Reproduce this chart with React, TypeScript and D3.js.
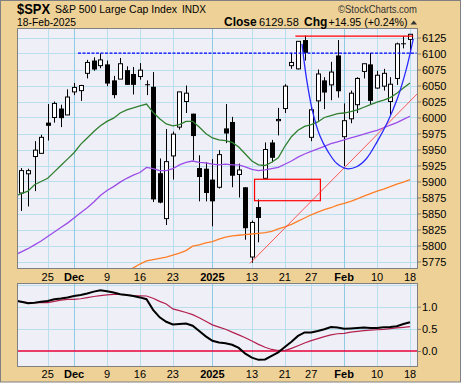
import React from "react";
import * as d3 from "d3";

// trading days on the chart (the first one sits just left of the plot edge)
const dates = [
  "2024-11-18", "2024-11-19", "2024-11-20", "2024-11-21", "2024-11-22", "2024-11-25", "2024-11-26", "2024-11-27", "2024-11-29",
  "2024-12-02", "2024-12-03", "2024-12-04", "2024-12-05", "2024-12-06", "2024-12-09", "2024-12-10", "2024-12-11", "2024-12-12",
  "2024-12-13", "2024-12-16", "2024-12-17", "2024-12-18", "2024-12-19", "2024-12-20", "2024-12-23", "2024-12-24", "2024-12-26",
  "2024-12-27", "2024-12-30", "2024-12-31",
  "2025-01-02", "2025-01-03", "2025-01-06", "2025-01-07", "2025-01-08", "2025-01-10", "2025-01-13", "2025-01-14", "2025-01-15",
  "2025-01-16", "2025-01-17", "2025-01-21", "2025-01-22", "2025-01-23", "2025-01-24", "2025-01-27", "2025-01-28", "2025-01-29",
  "2025-01-30", "2025-01-31",
  "2025-02-03", "2025-02-04", "2025-02-05", "2025-02-06", "2025-02-07", "2025-02-10", "2025-02-11", "2025-02-12", "2025-02-13",
  "2025-02-14", "2025-02-18",
];

const opens = [
  5900, 5882, 5912, 5939, 5944, 5992, 6000, 6014, 6004,
  6040, 6042, 6069, 6089, 6081, 6083, 6058, 6060, 6074, 6068, 6064, 6052, 6048, 5913, 5842, 5940, 5985, 6025, 6006, 5921, 5920,
  5903, 5891, 5983, 5993, 5911, 5891, 5782, 5860, 5905, 5961, 5995, 6014, 6081, 6076, 6121, 5969, 6026, 6058, 6051, 6097,
  5970, 5998, 6020, 6072, 6083, 6046, 6049, 6025, 6061, 6116, 6122,
];
const highs = [
  5908, 5921, 5920, 5963, 5973, 6021, 6025, 6020, 6044,
  6054, 6051, 6090, 6094, 6100, 6089, 6065, 6093, 6080, 6079, 6085, 6058, 6071, 5936, 5982, 5978, 6040, 6050, 6006, 5941, 5930,
  5935, 5949, 6021, 6001, 5928, 5891, 5839, 5872, 5961, 5965, 6015, 6052, 6101, 6119, 6128, 6017, 6075, 6063, 6087, 6121,
  6022, 6042, 6063, 6084, 6101, 6073, 6076, 6063, 6117, 6127, 6130,
];
const lows = [
  5866, 5854, 5861, 5885, 5944, 5964, 5992, 5985, 6004,
  6035, 6026, 6061, 6073, 6077, 6049, 6030, 6060, 6051, 6036, 6059, 6035, 5868, 5866, 5832, 5903, 5981, 6007, 5933, 5869, 5869,
  5830, 5889, 5960, 5891, 5875, 5809, 5773, 5805, 5905, 5930, 5972, 6007, 6076, 6075, 6089, 5963, 5995, 6013, 6027, 6031,
  5924, 5991, 6007, 6061, 6020, 6045, 6042, 6003, 6051, 6108, 6100,
];
const closes = [
  5894, 5917, 5917, 5949, 5969, 5987, 6022, 5999, 6032,
  6047, 6050, 6086, 6075, 6090, 6053, 6035, 6084, 6051, 6051, 6074, 6051, 5872, 5867, 5931, 5974, 6040, 6038, 5971, 5907, 5882,
  5869, 5942, 5975, 5909, 5918, 5827, 5836, 5843, 5950, 5937, 5997, 6049, 6086, 6119, 6101, 6012, 6068, 6039, 6071, 6041,
  5995, 6038, 6061, 6084, 6026, 6066, 6069, 6052, 6115, 6115, 6130,
];

// moving averages
const sma20 = [
  5877, 5881, 5885, 5895, 5900, 5905, 5915, 5925, 5935, 5945,
  5958, 5968, 5978, 5987, 5994, 5999, 6007, 6012, 6015, 6018,
  6021, 6008, 5998, 5990, 5987, 5989, 5994, 5994, 5985, 5975,
  5968, 5965, 5964, 5961, 5954, 5943, 5932, 5926, 5925, 5930,
  5937, 5955, 5970, 5980, 5986, 5989, 5993, 6000, 6003, 6006,
  6007, 6009, 6012, 6016, 6020, 6024, 6027, 6031, 6038, 6046, 6054,
];
const sma50 = [
  5785, 5790, 5795, 5801, 5807, 5814, 5821, 5828, 5835, 5843,
  5851, 5859, 5868, 5878, 5886, 5892, 5899, 5905, 5910, 5914,
  5922, 5920, 5917, 5917, 5920, 5926, 5930, 5932, 5930, 5929,
  5927, 5926, 5927, 5926, 5926, 5923, 5919, 5917, 5918, 5920,
  5922, 5927, 5932, 5938, 5943, 5947, 5951, 5955, 5959, 5962,
  5965, 5968, 5971, 5974, 5977, 5980, 5984, 5988, 5992, 5997, 6002,
];
const sma200 = [
  null, null, null, null, null, null, null, null, null, null,
  null, null, null, null, null, null, 5752, 5758, 5765, 5771,
  5776, 5778, 5780, 5782, 5785, 5788, 5792, 5799, 5801, 5804,
  5806, 5810, 5813, 5815, 5816, 5817, 5818, 5819, 5820, 5822,
  5826, 5829, 5833, 5838, 5843, 5848, 5852, 5856, 5859, 5863,
  5866, 5869, 5873, 5877, 5881, 5885, 5888, 5892, 5896, 5899, 5903,
];

// lower panel: indicator and its signal line
const indicator = [
  1.14, 1.11, 1.08, 1.09, 1.11, 1.13, 1.17, 1.185, 1.21, 1.24,
  1.265, 1.30, 1.34, 1.37, 1.35, 1.32, 1.28, 1.264, 1.24, 1.21,
  1.17, 0.93, 0.76, 0.66, 0.60, 0.61, 0.62, 0.57, 0.45, 0.33,
  0.23, 0.19, 0.175, 0.14, 0.07, -0.06, -0.15, -0.20, -0.19, -0.11,
  -0.03, 0.09, 0.21, 0.34, 0.42, 0.42, 0.45, 0.49, 0.54, 0.53,
  0.50, 0.51, 0.52, 0.53, 0.52, 0.52, 0.535, 0.54, 0.56, 0.61, 0.65,
];
const signal = [
  1.14, 1.11, 1.09, 1.09, 1.09, 1.09, 1.12, 1.15, 1.167, 1.167,
  1.18, 1.205, 1.23, 1.25, 1.265, 1.28, 1.28, 1.264, 1.25, 1.245,
  1.242, 1.19, 1.12, 1.06, 0.95, 0.91, 0.87, 0.82, 0.75, 0.67,
  0.59, 0.54, 0.49, 0.425, 0.365, 0.30, 0.225, 0.15, 0.085, 0.035,
  0.012, 0.01, 0.06, 0.12, 0.18, 0.235, 0.28, 0.325, 0.365, 0.39,
  0.40, 0.425, 0.445, 0.46, 0.47, 0.48, 0.49, 0.505, 0.52, 0.535, 0.55,
];

const priceTicks = [5775, 5800, 5825, 5850, 5875, 5900, 5925, 5950, 5975, 6000, 6025, 6050, 6075, 6100, 6125];
const indicatorTicks = [0, 0.5, 1.0];
const tickDates = [
  "2024-11-25", "2024-12-02", "2024-12-09", "2024-12-16", "2024-12-23", "2025-01-02",
  "2025-01-13", "2025-01-21", "2025-01-27", "2025-02-03", "2025-02-10", "2025-02-18",
];
const tickLabels = ["25", "Dec", "9", "16", "23", "2025", "13", "21", "27", "Feb", "10", "18"];
const tickMajor = [false, true, false, false, false, true, false, false, false, true, false, false];

// user annotations (positions in trading-day units, prices)
const resistance = { from: 9.6, to: 61, price: 6100.5 };
const highLine = { from: 42.6, to: 60.5, price: 6127 };
const gapBox = { from: 36.4, to: 46.4, low: 5870, high: 5903.5 };
const trendLine: [number, number][] = [[35.7, 5772], [61.2, 6038]];
const arcPoints: [number, number][] = [
  [43.6, 6115], [44.3, 6060], [45.2, 6010], [46.3, 5972], [47.6, 5946], [48.9, 5928], [50.4, 5920],
  [51.9, 5923], [53.4, 5936], [55, 5962], [56.6, 5993], [58.1, 6030], [59.4, 6074], [60.5, 6123],
];

const TAN = "#eed197";
const PLOT_BG = "#efeff7";
const GRID = "#b9dfee";
const GRID_MAJOR = "#8fcbe4";
const BORDER = "#808080";
const FONT = "'Liberation Sans', Arial, sans-serif";

function drawChart(node: SVGSVGElement) {
  const svg = d3.select(node);
  svg.selectAll("*").remove();
  svg.attr("font-family", FONT);

  const main = { left: 17, right: 418, top: 28, bottom: 269 };
  const lower = { left: 17, right: 418, top: 283, bottom: 367 };

  const x = d3.scaleLinear().domain([0, dates.length - 1]).range([14.76, 410]);
  const y = d3.scaleLinear().domain([5775, 6125]).range([261.5, 37.5]);
  const yInd = d3.scaleLinear().domain([0, 1]).range([351, 306.7]);
  const idx = (d: string) => dates.indexOf(d);

  svg.append("rect").attr("width", 464).attr("height", 385).attr("fill", "#fff");
  svg.append("rect")
    .attr("x", 0.5).attr("y", 0.5).attr("width", 460).attr("height", 381.5)
    .attr("fill", TAN).attr("stroke", BORDER);

  const defs = svg.append("defs");
  [["clip-main", main], ["clip-lower", lower]].forEach(([id, p]: any) => {
    defs.append("clipPath").attr("id", id).append("rect")
      .attr("x", p.left).attr("y", p.top)
      .attr("width", p.right - p.left).attr("height", p.bottom - p.top);
  });

  // panel backgrounds
  [main, lower].forEach((p) => {
    svg.append("rect")
      .attr("x", p.left).attr("y", p.top)
      .attr("width", p.right - p.left).attr("height", p.bottom - p.top)
      .attr("fill", PLOT_BG);
  });

  // grids
  const gMain = svg.append("g").attr("clip-path", "url(#clip-main)");
  const gLow = svg.append("g").attr("clip-path", "url(#clip-lower)");

  gMain.selectAll("line.h").data(priceTicks).enter().append("line")
    .attr("x1", main.left).attr("x2", main.right)
    .attr("y1", (d) => Math.round(y(d)) + 0.5).attr("y2", (d) => Math.round(y(d)) + 0.5)
    .attr("stroke", GRID);
  gLow.selectAll("line.h").data([1.5, 1.0, 0.5, -0.5]).enter().append("line")
    .attr("x1", lower.left).attr("x2", lower.right)
    .attr("y1", (d) => Math.round(yInd(d)) + 0.5).attr("y2", (d) => Math.round(yInd(d)) + 0.5)
    .attr("stroke", GRID);

  [[gMain, main], [gLow, lower]].forEach(([g, p]: any) => {
    g.selectAll("line.v").data(tickDates).enter().append("line")
      .attr("x1", (d: string) => Math.round(x(idx(d))) + 0.5)
      .attr("x2", (d: string) => Math.round(x(idx(d))) + 0.5)
      .attr("y1", p.top).attr("y2", p.bottom)
      .attr("stroke", (_: string, i: number) => (tickMajor[i] ? GRID_MAJOR : GRID));
  });

  // candles
  const candles = gMain.selectAll("g.c").data(dates).enter().append("g");
  candles.append("line")
    .attr("x1", (_, i) => Math.round(x(i)) + 0.5).attr("x2", (_, i) => Math.round(x(i)) + 0.5)
    .attr("y1", (_, i) => y(highs[i])).attr("y2", (_, i) => y(lows[i]))
    .attr("stroke", "#000").attr("stroke-width", 1);
  candles.append("rect")
    .attr("x", (_, i) => Math.round(x(i)) + (closes[i] >= opens[i] ? -1.5 : -2))
    .attr("width", (_, i) => (closes[i] >= opens[i] ? 4 : 5))
    .attr("y", (_, i) => Math.min(y(opens[i]), y(closes[i])))
    .attr("height", (_, i) => Math.max(Math.abs(y(opens[i]) - y(closes[i])), 1))
    .attr("fill", (_, i) => (closes[i] >= opens[i] ? "#fff" : "#000"))
    .attr("stroke", (_, i) => (closes[i] >= opens[i] ? "#000" : "none"))
    .attr("stroke-width", 1);

  // moving averages
  const maLine = d3.line<number | null>()
    .defined((d) => d != null)
    .x((_, i) => x(i))
    .y((d) => y(d as number));
  [[sma20, "#2f7f2f"], [sma50, "#9b4de8"], [sma200, "#ff7f27"]].forEach(([data, color]: any) => {
    gMain.append("path").attr("d", maLine(data)).attr("fill", "none")
      .attr("stroke", color).attr("stroke-width", 1.3);
  });

  // annotations
  gMain.append("line")
    .attr("x1", x(resistance.from)).attr("x2", x(resistance.to))
    .attr("y1", y(resistance.price)).attr("y2", y(resistance.price))
    .attr("stroke", "#0000ff").attr("stroke-width", 1.2).attr("stroke-dasharray", "3,1.5");
  gMain.append("line")
    .attr("x1", x(highLine.from)).attr("x2", x(highLine.to))
    .attr("y1", y(highLine.price)).attr("y2", y(highLine.price))
    .attr("stroke", "#ff0000").attr("stroke-width", 1.3);
  gMain.append("rect")
    .attr("x", x(gapBox.from)).attr("width", x(gapBox.to) - x(gapBox.from))
    .attr("y", y(gapBox.high)).attr("height", y(gapBox.low) - y(gapBox.high))
    .attr("fill", "none").attr("stroke", "#ff0000").attr("stroke-width", 1.2);
  gMain.append("line")
    .attr("x1", x(trendLine[0][0])).attr("y1", y(trendLine[0][1]))
    .attr("x2", x(trendLine[1][0])).attr("y2", y(trendLine[1][1]))
    .attr("stroke", "#ff3b3b").attr("stroke-width", 1).attr("stroke-opacity", 0.85);
  const arc = d3.line<[number, number]>().curve(d3.curveCatmullRom)
    .x((d) => x(d[0])).y((d) => y(d[1]));
  gMain.append("path").attr("d", arc(arcPoints)).attr("fill", "none")
    .attr("stroke", "#2a2aff").attr("stroke-width", 1.3);

  // lower panel lines
  gLow.append("line")
    .attr("x1", lower.left).attr("x2", lower.right)
    .attr("y1", yInd(0)).attr("y2", yInd(0))
    .attr("stroke", "#e8003a").attr("stroke-width", 1.5);
  const indLine = d3.line<number>().x((_, i) => x(i)).y((d) => yInd(d));
  gLow.append("path").attr("d", indLine(signal)).attr("fill", "none")
    .attr("stroke", "#b3204e").attr("stroke-width", 1.2);
  gLow.append("path").attr("d", indLine(indicator)).attr("fill", "none")
    .attr("stroke", "#000").attr("stroke-width", 2);

  // panel borders
  [main, lower].forEach((p) => {
    svg.append("rect")
      .attr("x", p.left + 0.5).attr("y", p.top + 0.5)
      .attr("width", p.right - p.left - 1).attr("height", p.bottom - p.top - 1)
      .attr("fill", "none").attr("stroke", BORDER);
  });

  // right axes
  const styleAxis = (g: any) => {
    g.select(".domain").remove();
    g.selectAll(".tick line").attr("stroke", BORDER);
    g.selectAll(".tick text").attr("fill", "#000").attr("font-size", 11).attr("font-family", FONT);
  };
  svg.append("g").attr("transform", `translate(${main.right},0)`)
    .call(d3.axisRight(y).tickValues(priceTicks).tickSize(3).tickPadding(1).tickFormat(d3.format("d")))
    .call(styleAxis);
  svg.append("g").attr("transform", `translate(${lower.right},0)`)
    .call(d3.axisRight(yInd).tickValues(indicatorTicks).tickSize(3).tickPadding(1).tickFormat(d3.format(".1f")))
    .call(styleAxis);

  // date labels under both panels
  [281, 378].forEach((baseline) => {
    svg.append("g").selectAll("text").data(tickDates).enter().append("text")
      .attr("x", (d) => x(idx(d)))
      .attr("y", baseline)
      .attr("text-anchor", "middle")
      .attr("font-size", 11)
      .attr("font-weight", (_, i) => (tickMajor[i] ? "bold" : "normal"))
      .text((_, i) => tickLabels[i]);
  });

  // header
  const head = svg.append("g").attr("fill", "#000");
  head.append("text").attr("x", 17).attr("y", 14).attr("font-size", 15).attr("font-weight", "bold")
    .attr("textLength", 33).attr("lengthAdjust", "spacingAndGlyphs").text("$SPX");
  head.append("text").attr("x", 55).attr("y", 13).attr("font-size", 11)
    .attr("textLength", 122).attr("lengthAdjust", "spacingAndGlyphs").text("S&P 500 Large Cap Index");
  head.append("text").attr("x", 182).attr("y", 13).attr("font-size", 10.5)
    .attr("textLength", 24).attr("lengthAdjust", "spacingAndGlyphs").text("INDX");
  head.append("text").attr("x", 338).attr("y", 13).attr("font-size", 11)
    .attr("textLength", 79).attr("lengthAdjust", "spacingAndGlyphs")
    .attr("fill", "#333").text("\u00A9StockCharts.com");
  head.append("text").attr("x", 17).attr("y", 25.5).attr("font-size", 11)
    .attr("textLength", 59).attr("lengthAdjust", "spacingAndGlyphs").text("18-Feb-2025");
  head.append("text").attr("x", 224).attr("y", 25.5).attr("font-size", 12).attr("font-weight", "bold").text("Close");
  head.append("text").attr("x", 259).attr("y", 25.5).attr("font-size", 11).text("6129.58");
  head.append("text").attr("x", 304).attr("y", 25.5).attr("font-size", 12).attr("font-weight", "bold").text("Chg");
  head.append("text").attr("x", 328.5).attr("y", 25.5).attr("font-size", 11)
    .attr("textLength", 79).attr("lengthAdjust", "spacingAndGlyphs").text("+14.95 (+0.24%)");
  head.append("path").attr("d", "M410.5,24.5 L417,24.5 L413.75,20.5 Z").attr("fill", "#333");
}

export default function App() {
  const ref = React.useRef<SVGSVGElement>(null);
  React.useEffect(() => {
    if (ref.current) drawChart(ref.current);
  }, []);
  return (
    <svg ref={ref} width={464} height={385} style={{ position: "absolute", left: 0, top: 0 }} />
  );
}
